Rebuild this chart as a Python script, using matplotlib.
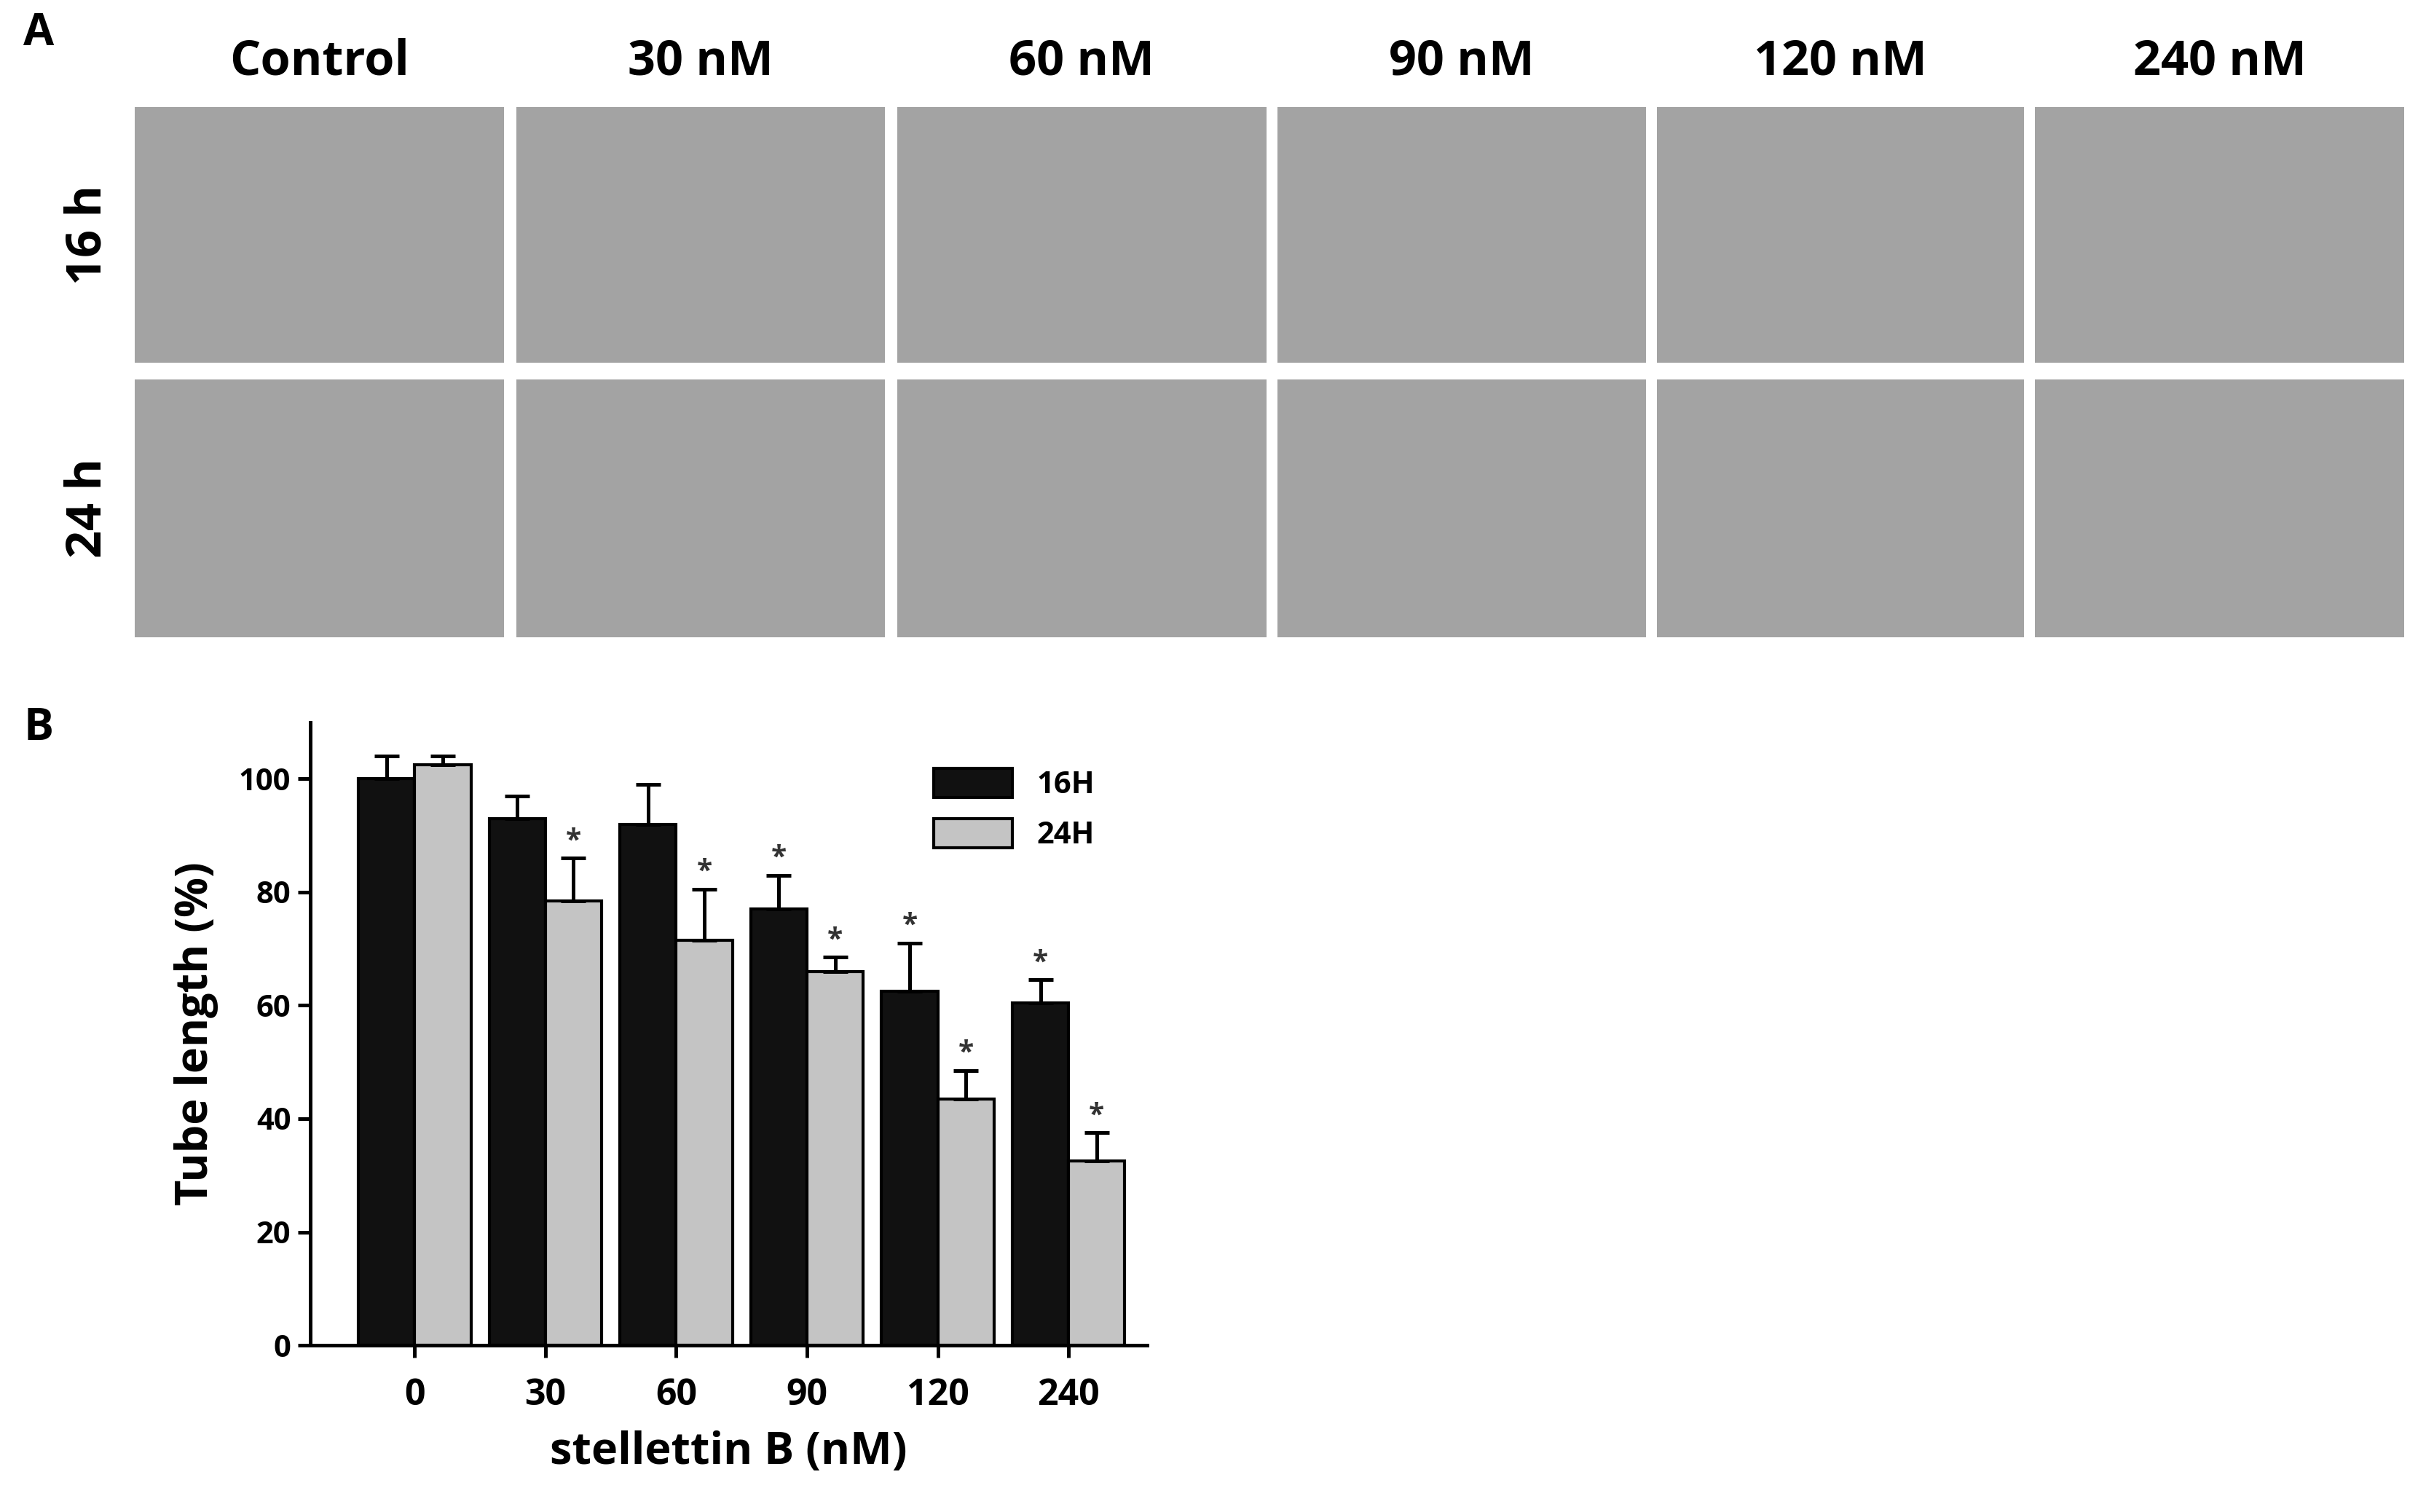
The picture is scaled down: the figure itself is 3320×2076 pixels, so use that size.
import matplotlib
matplotlib.use("Agg")
import matplotlib.pyplot as plt
from matplotlib.patches import Rectangle
import numpy as np

plt.rcParams['font.family'] = ['Open Sans', 'DejaVu Sans']

conc_labels = ['0', '30', '60', '90', '120', '240']
col_titles = ['Control', '30 nM', '60 nM', '90 nM', '120 nM', '240 nM']
row_labels = ['16 h', '24 h']
v16 = [100, 93, 92, 77, 62.5, 60.5]
e16 = [4, 4, 7, 6, 8.5, 4]
v24 = [102.5, 78.5, 71.5, 66, 43.5, 32.5]
e24 = [1.5, 7.5, 9, 2.5, 5, 5]
sig16 = [False, False, False, True, True, True]
sig24 = [False, True, True, True, True, True]

W, H = 1560.0, 975.6
fig = plt.figure(figsize=(16.6, 10.38), dpi=200)

def fx(x): return x / W
def fy(y): return 1 - y / H

# Panel A placeholders
cols = [(87, 325), (333, 571), (579, 817), (824, 1062), (1069, 1306), (1313, 1551)]
rows = [(69, 234), (245, 411)]
for (x0, x1), t in zip(cols, col_titles):
    fig.text(fx((x0 + x1) / 2), fy(40), t, ha='center', va='center', fontsize=24, fontweight='bold')
    for (y0, y1) in rows:
        fig.add_artist(Rectangle((fx(x0), fy(y1)), fx(x1) - fx(x0), fy(y0) - fy(y1),
                                 transform=fig.transFigure, facecolor='#a3a3a3', edgecolor='none'))
for (y0, y1), t in zip(rows, row_labels):
    fig.text(fx(57), fy((y0 + y1) / 2), t, rotation=90, ha='center', va='center', fontsize=24, fontweight='bold')
fig.text(fx(25), fy(22), 'A', ha='center', va='center', fontsize=22, fontweight='bold')
fig.text(fx(25), fy(470), 'B', ha='center', va='center', fontsize=22, fontweight='bold')

# Panel B
ax = fig.add_axes([fx(200), fy(868), fx(740) - fx(200), fy(466) - fy(868)])
x = np.arange(len(conc_labels))
bw = 0.43
ax.bar(x - bw / 2, v16, bw, color='#111111', edgecolor='black', linewidth=1.5, label='16H',
       yerr=[np.zeros(6), e16], error_kw=dict(ecolor='black', elinewidth=1.8, capsize=6, capthick=1.8))
ax.bar(x + bw / 2, v24, bw, color='#c4c4c4', edgecolor='black', linewidth=1.5, label='24H',
       yerr=[np.zeros(6), e24], error_kw=dict(ecolor='black', elinewidth=1.8, capsize=6, capthick=1.8))
for i in range(6):
    if sig16[i]:
        ax.text(x[i] - bw / 2, v16[i] + e16[i] + 0.5, '*', ha='center', va='bottom', fontsize=14, fontweight='bold', color='#333333')
    if sig24[i]:
        ax.text(x[i] + bw / 2, v24[i] + e24[i] + 0.5, '*', ha='center', va='bottom', fontsize=14, fontweight='bold', color='#333333')
ax.set_xlim(-0.8, 5.6)
ax.set_ylim(0, 110)
ax.set_yticks([0, 20, 40, 60, 80, 100])
ax.set_xticks(x)
ax.set_xticklabels(conc_labels)
for s in ['top', 'right']:
    ax.spines[s].set_visible(False)
for s in ['left', 'bottom']:
    ax.spines[s].set_linewidth(1.8)
ax.tick_params(axis='both', width=1.8, length=6, labelsize=15)
ax.tick_params(axis='x', labelsize=18, pad=10)
for lab in ax.get_xticklabels() + ax.get_yticklabels():
    lab.set_fontweight('bold')
ax.set_xlabel('stellettin B (nM)', fontsize=22, fontweight='bold', labelpad=8)
ax.set_ylabel('Tube length (%)', fontsize=22, fontweight='bold', labelpad=10)
leg = ax.legend(loc='upper right', bbox_to_anchor=(0.97, 0.97), frameon=False, fontsize=15,
                handlelength=2.6, handleheight=1.1, labelspacing=0.6)
for t in leg.get_texts():
    t.set_fontweight('bold')

fig.savefig('out.png', dpi=200)
